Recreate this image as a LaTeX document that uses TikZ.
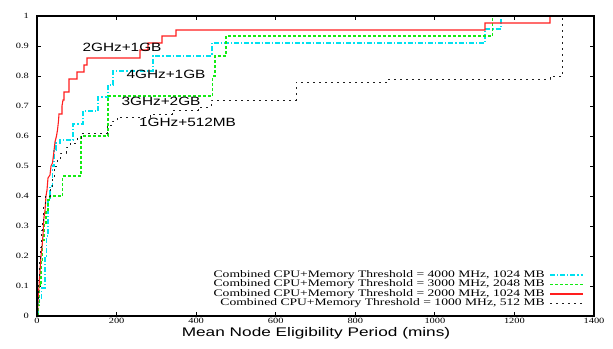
\documentclass[tikz,border=0pt]{standalone}
\usepackage{graphicx}
\usepackage{fontspec}
\setmainfont{Liberation Serif}
\newfontfamily\lsans{Liberation Sans}
\newcommand{\hstr}[2]{\scalebox{#1}[1]{#2}}
\definecolor{cRed}{RGB}{255,30,30}
\definecolor{cGreen}{RGB}{20,235,20}
\definecolor{cCyan}{RGB}{0,225,240}
\definecolor{cBlack}{RGB}{30,30,30}
\begin{document}
\begin{tikzpicture}[x=1pt,y=-1pt,
  frame/.style={line width=1.2pt,black},
  tickmark/.style={line width=0.8pt,black},
  ticklab/.style={font=\fontsize{8}{8}\selectfont,inner sep=0pt},
  leglab/.style={font=\fontsize{10}{10}\selectfont,inner sep=0pt,anchor=east},
  curvelab/.style={font=\lsans\fontsize{12}{12}\selectfont,inner sep=0pt},
  axlab/.style={font=\lsans\fontsize{12.5}{12.5}\selectfont,inner sep=0pt},
  cyanline/.style={cCyan,line width=1.2pt,dash pattern=on 5pt off 2pt on 1.2pt off 2pt},
  greenline/.style={cGreen,line width=1.2pt,dash pattern=on 3pt off 2pt},
  redline/.style={cRed,line width=1.1pt},
  blackline/.style={cBlack,line width=1pt,dash pattern=on 2pt off 4pt}]
\fill[white] (0,0) rectangle (613,348);
\useasboundingbox (0,0) rectangle (613,348);

% ticks
\foreach \k in {0,...,7} {
  \pgfmathsetmacro{\xx}{37+79.571*\k}
  \draw[tickmark] (\xx,316) -- (\xx,312);
  \draw[tickmark] (\xx,16) -- (\xx,20);
}
\foreach \k in {0,...,10} {
  \pgfmathsetmacro{\yy}{316-30*\k}
  \draw[tickmark] (37,\yy) -- (41,\yy);
  \draw[tickmark] (594,\yy) -- (590,\yy);
}
% x tick labels
\node[ticklab] (x0) at (37,321) {\hstr{1.3}{0}};
\node[ticklab] (x1) at (116.6,321) {\hstr{1.3}{200}};
\node[ticklab] (x2) at (196.1,321) {\hstr{1.3}{400}};
\node[ticklab] (x3) at (275.7,321) {\hstr{1.3}{600}};
\node[ticklab] (x4) at (355.3,321) {\hstr{1.3}{800}};
\node[ticklab] (x5) at (434.9,321) {\hstr{1.3}{1000}};
\node[ticklab] (x6) at (514.4,321) {\hstr{1.3}{1200}};
\node[ticklab] (x7) at (594,321) {\hstr{1.3}{1400}};
% y tick labels
\node[ticklab,anchor=east] (y0) at (29,316) {\hstr{1.3}{0}};
\node[ticklab,anchor=east] (y1) at (29,286) {\hstr{1.3}{0.1}};
\node[ticklab,anchor=east] (y2) at (29,256) {\hstr{1.3}{0.2}};
\node[ticklab,anchor=east] (y3) at (29,226) {\hstr{1.3}{0.3}};
\node[ticklab,anchor=east] (y4) at (29,196) {\hstr{1.3}{0.4}};
\node[ticklab,anchor=east] (y5) at (29,166) {\hstr{1.3}{0.5}};
\node[ticklab,anchor=east] (y6) at (29,136) {\hstr{1.3}{0.6}};
\node[ticklab,anchor=east] (y7) at (29,106) {\hstr{1.3}{0.7}};
\node[ticklab,anchor=east] (y8) at (29,76) {\hstr{1.3}{0.8}};
\node[ticklab,anchor=east] (y9) at (29,46) {\hstr{1.3}{0.9}};
\node[ticklab,anchor=east] (y10) at (29,16) {\hstr{1.3}{1}};

% curves
\draw[cyanline] plot coordinates {(38,316) (38,300) (41.5,300) (41.5,288) (45,288) (45,256) (46.5,256) (46.5,236) (48,236) (48,200) (50,200) (50,186) (52.5,186) (52.5,166) (54,166) (54,150) (56,150) (56,143) (60,143) (60,140) (73,140) (73,124) (83,124) (83,111) (98,111) (98,97) (108,97) (108,85) (113,85) (113,71) (153,71) (153,56) (212,56) (212,43) (485,43) (485,29) (501,29) (501,16)};
\draw[greenline] plot coordinates {(38,316) (38,305) (39.5,305) (39.5,285) (41,285) (41,260) (42.5,260) (42.5,240) (44,240) (44,225) (46,225) (46,210) (48,210) (48,200) (50,200) (50,196) (62.5,196) (62.5,176) (81,176) (81,136) (108,136) (108,96) (212.5,96) (212.5,76) (215,76) (215,56) (226,56) (226,36) (492.5,36) (492.5,16)};
\draw[redline] plot coordinates {(37.5,316) (38,301) (39,286) (40,271) (41,256) (42,247) (43,235) (44,217) (45,211) (46,196) (47,190) (48,178) (50,175) (51,166) (52.5,163) (54,151) (55,142) (56.5,136) (57.5,130) (58.5,121) (59,114) (62,114) (62,106) (63,100) (64,100) (64,92) (69,92) (69,79) (77,79) (77,72) (84,72) (84,65) (87,65) (87,58) (140,58) (140,50) (148,50) (148,43) (162,43) (162,36) (176,36) (176,30) (485,30) (485,23) (550,23) (550,16)};
\draw[blackline] plot coordinates {(37,316) (37,300) (38,300) (38,280) (39,280) (39,262) (40,262) (40,247) (41,247) (41,230) (42,230) (42,220) (43.5,220) (43.5,205) (45,205) (45,196) (50,196) (50,188) (52,188) (52,178) (54,178) (54,166) (57,166) (57,160) (60,160) (60,153) (66,153) (66,147) (70,147) (70,143) (77,143) (77,138) (81,138) (81,133) (107,133) (107,125) (112,125) (112,121) (117,121) (117,117) (150,117) (150,114) (172,114) (172,110) (198,110) (198,107) (211,107) (211,100) (296,100) (296,82) (387,82) (387,79) (550,79) (550,76) (562.5,76) (562.5,16)};

% curve labels
\node[curvelab] (l2) at (122,47) {\hstr{1.28}{2GHz+1GB}};
\node[curvelab] (l4) at (166,74) {\hstr{1.28}{4GHz+1GB}};
\node[curvelab] (l3) at (161,101.5) {\hstr{1.28}{3GHz+2GB}};
\node[curvelab] (l1) at (187.5,122) {\hstr{1.28}{1GHz+512MB}};

% legend
\node[leglab] (k1) at (545,275) {\hstr{1.36}{Combined CPU+Memory Threshold = 4000 MHz, 1024 MB}};
\node[leglab] (k2) at (545,284.5) {\hstr{1.36}{Combined CPU+Memory Threshold = 3000 MHz, 2048 MB}};
\node[leglab] (k3) at (545,294) {\hstr{1.36}{Combined CPU+Memory Threshold = 2000 MHz, 1024 MB}};
\node[leglab] (k4) at (545,303.5) {\hstr{1.36}{Combined CPU+Memory Threshold = 1000 MHz, 512 MB}};
\coordinate (s1a) at (550,275); \coordinate (s1b) at (583,275);
\coordinate (s2a) at (550,284.5); \coordinate (s2b) at (583,284.5);
\coordinate (s3a) at (550,294); \coordinate (s3b) at (583,294);
\coordinate (s4a) at (550,303.5); \coordinate (s4b) at (583,303.5);
\draw[cyanline] (s1a) -- (s1b);
\draw[greenline] (s2a) -- (s2b);
\draw[redline] (s3a) -- (s3b);
\draw[blackline] (s4a) -- (s4b);

% frame
\draw[frame] (37,16) rectangle (594,316);

% axis label
\node[axlab] (xl) at (316,333.5) {\hstr{1.38}{Mean Node Eligibility Period (mins)}};
\end{tikzpicture}
\end{document}
